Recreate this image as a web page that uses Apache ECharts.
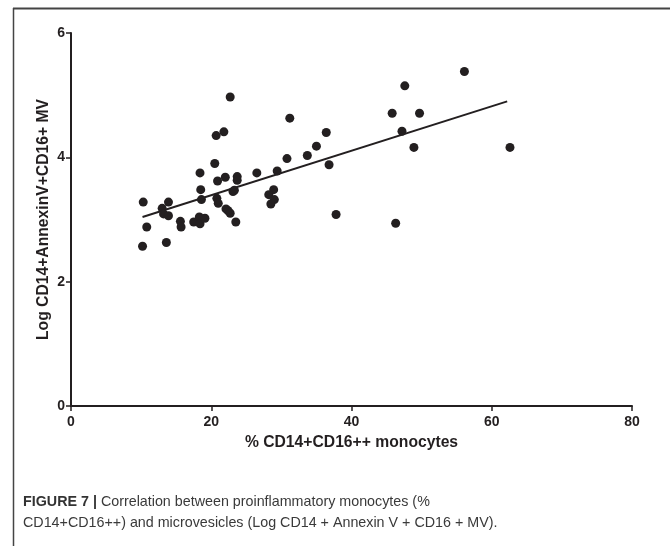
<!DOCTYPE html>
<html>
<head>
<meta charset="utf-8">
<script src="https://cdn.jsdelivr.net/npm/echarts@6/dist/echarts.min.js"></script>
<style>
html,body{margin:0;padding:0;background:#fff;}
#main{width:670px;height:546px;}
</style>
</head>
<body>
<div id="main"></div>
<script>
// % CD14+CD16++ monocytes
var monocytesPct = [10.3,10.8,10.2,13.0,13.2,13.9,13.9,13.6,15.6,15.7,17.5,18.3,18.4,19.1,18.6,18.5,18.4,20.5,20.7,21.8,22.7,20.9,22.0,23.7,23.7,20.8,21.0,22.1,22.4,22.7,23.1,23.3,23.5,26.5,29.4,28.9,28.2,29.0,28.5,30.8,31.2,33.7,35.0,36.4,36.8,37.8,45.8,47.6,49.7,47.2,48.9,56.1,62.6,46.3];
// Log CD14+AnnexinV+CD16+ MV
var logMV = [3.28,2.88,2.57,3.18,3.09,3.06,3.28,2.63,2.97,2.88,2.96,3.04,2.93,3.02,3.32,3.48,3.75,3.90,4.35,4.41,4.97,3.62,3.68,3.69,3.63,3.34,3.26,3.17,3.14,3.10,3.45,3.47,2.96,3.75,3.78,3.48,3.40,3.32,3.25,3.98,4.63,4.03,4.18,4.40,3.88,3.08,4.71,5.15,4.71,4.42,4.16,5.38,4.16,2.94];
// regression line end points
var fitX = [10.2, 62.2];
var fitY = [3.04, 4.90];
var xTicks = [0,20,40,60,80];
var yTicks = [0,2,4,6];

var points = monocytesPct.map(function(x,i){return [x, logMV[i]];});
var fitLine = fitX.map(function(x,i){return [x, fitY[i]];});

var ink = '#231f20';
var chart = echarts.init(document.getElementById('main'));
chart.setOption({
  animation:false,
  backgroundColor:'#fff',
  grid:{left:71,right:38,top:33,bottom:140,containLabel:false},
  xAxis:{
    type:'value',min:xTicks[0],max:xTicks[xTicks.length-1],interval:20,
    name:'% CD14+CD16++ monocytes',nameLocation:'middle',nameGap:29,
    nameTextStyle:{fontFamily:'Liberation Sans',fontWeight:'bold',fontSize:15.7,color:ink},
    axisLine:{lineStyle:{color:ink,width:2}},
    axisTick:{length:5,lineStyle:{color:ink,width:1.5}},
    axisLabel:{fontFamily:'Liberation Sans',fontWeight:'bold',fontSize:14,color:ink,margin:9},
    splitLine:{show:false}
  },
  yAxis:{
    type:'value',min:yTicks[0],max:yTicks[yTicks.length-1],interval:2,
    name:'Log CD14+AnnexinV+CD16+ MV',nameLocation:'middle',nameGap:19,nameMoveOverlap:false,
    nameTextStyle:{fontFamily:'Liberation Sans',fontWeight:'bold',fontSize:15.7,color:ink},
    axisLine:{show:true,lineStyle:{color:ink,width:2}},
    axisTick:{show:true,length:5,lineStyle:{color:ink,width:1.5}},
    axisLabel:{fontFamily:'Liberation Sans',fontWeight:'bold',fontSize:14,color:ink,margin:6},
    splitLine:{show:false}
  },
  series:[
    {type:'scatter',data:points,symbol:'circle',symbolSize:9,itemStyle:{color:ink,opacity:1}},
    {type:'line',data:fitLine,symbol:'none',lineStyle:{color:ink,width:2},z:1}
  ],
  graphic:[
    {type:'line',shape:{x1:13,y1:8.5,x2:670,y2:8.5},style:{stroke:'#444',lineWidth:2}},
    {type:'line',shape:{x1:13.5,y1:8,x2:13.5,y2:546},style:{stroke:'#444',lineWidth:1.5}},
    {type:'text',left:23,top:495,style:{
      text:'{b|FIGURE 7 |} Correlation between proinflammatory monocytes (%',
      rich:{b:{fontFamily:'Liberation Sans',fontWeight:'bold',fontSize:14.3,fill:'#333'}},
      fontFamily:'Liberation Sans',fontSize:14.3,fill:'#3a3a3a'}},
    {type:'text',left:23,top:516,style:{
      text:'CD14+CD16++) and microvesicles (Log CD14 + Annexin V + CD16 + MV).',
      fontFamily:'Liberation Sans',fontSize:14.3,fill:'#3a3a3a'}}
  ]
});
</script>
</body>
</html>
